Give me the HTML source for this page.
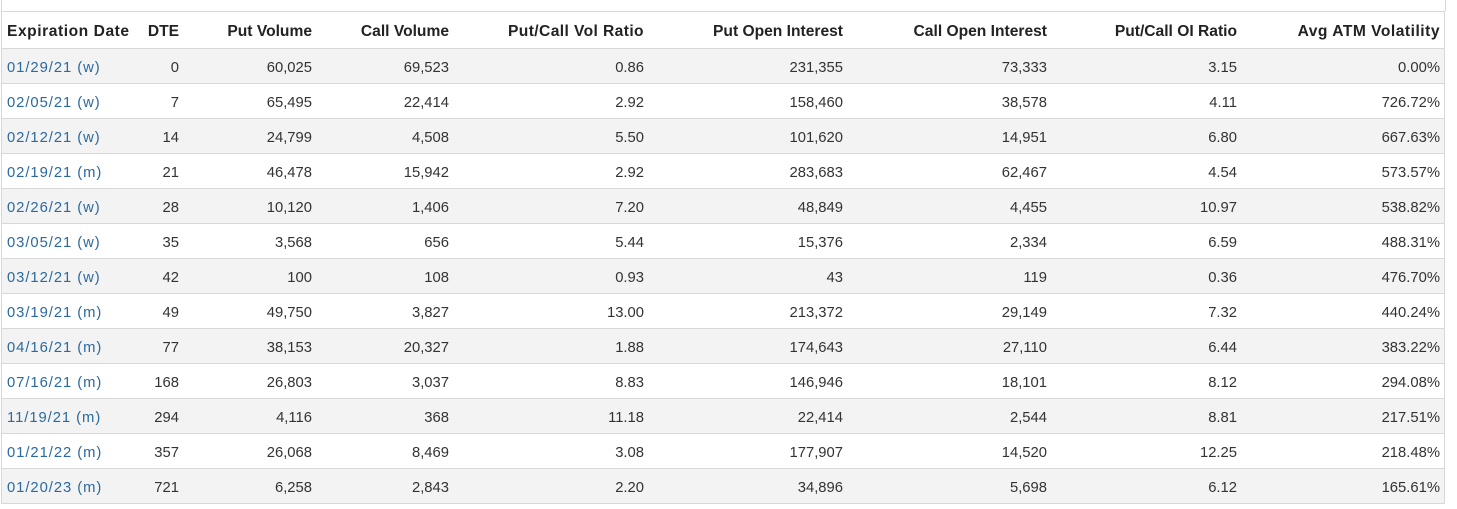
<!DOCTYPE html>
<html><head><meta charset="utf-8"><style>
html,body{margin:0;padding:0;background:#fff;}
body{width:1457px;height:509px;position:relative;overflow:hidden;font-family:"Liberation Sans",Arial,sans-serif;color:#333;}
.vl{position:absolute;width:1px;background:#d8d8d8;}
.hl{position:absolute;height:1px;background:#d8d8d8;left:1px;width:1444px;}
.row{position:absolute;left:2px;width:1442px;height:35px;}
.g{background:#f3f3f3;}
.c{position:absolute;top:1.5px;line-height:35px;font-size:14.8px;white-space:nowrap;text-align:right;}
.hd .c{top:2px;font-weight:bold;font-size:15.6px;line-height:37px;color:#222;}
.a{left:5px;text-align:left;color:#2b6a9e;letter-spacing:0.95px;}
.hd .a{color:#222;letter-spacing:0.55px;}
.hd .d8{letter-spacing:0.5px;}
.hd .d4{letter-spacing:0.4px;}
.d1{right:1265px}.d2{right:1132px}.d3{right:995px}.d4{right:800px}
.d5{right:601px}.d6{right:397px}.d7{right:207px}.d8{right:4px}
</style></head><body>
<div class="vl" style="left:1px;top:0;height:504px"></div>
<div class="vl" style="left:1445px;top:0;height:11px"></div>
<div class="vl" style="left:1444px;top:11px;height:493px"></div>
<div class="hl" style="top:11px"></div>

<div class="row hd" style="top:11px;height:37px">
<span class="c a">Expiration Date</span><span class="c d1">DTE</span><span class="c d2">Put Volume</span><span class="c d3">Call Volume</span><span class="c d4">Put/Call Vol Ratio</span><span class="c d5">Put Open Interest</span><span class="c d6">Call Open Interest</span><span class="c d7">Put/Call OI Ratio</span><span class="c d8">Avg ATM Volatility</span>
</div>
<div class="hl" style="top:48px"></div>

<div class="row g" style="top:49px;height:34px"><span class="c a">01/29/21 (w)</span><span class="c d1">0</span><span class="c d2">60,025</span><span class="c d3">69,523</span><span class="c d4">0.86</span><span class="c d5">231,355</span><span class="c d6">73,333</span><span class="c d7">3.15</span><span class="c d8">0.00%</span></div>
<div class="hl" style="top:83px"></div>
<div class="row" style="top:84px;height:34px"><span class="c a">02/05/21 (w)</span><span class="c d1">7</span><span class="c d2">65,495</span><span class="c d3">22,414</span><span class="c d4">2.92</span><span class="c d5">158,460</span><span class="c d6">38,578</span><span class="c d7">4.11</span><span class="c d8">726.72%</span></div>
<div class="hl" style="top:118px"></div>
<div class="row g" style="top:119px;height:34px"><span class="c a">02/12/21 (w)</span><span class="c d1">14</span><span class="c d2">24,799</span><span class="c d3">4,508</span><span class="c d4">5.50</span><span class="c d5">101,620</span><span class="c d6">14,951</span><span class="c d7">6.80</span><span class="c d8">667.63%</span></div>
<div class="hl" style="top:153px"></div>
<div class="row" style="top:154px;height:34px"><span class="c a">02/19/21 (m)</span><span class="c d1">21</span><span class="c d2">46,478</span><span class="c d3">15,942</span><span class="c d4">2.92</span><span class="c d5">283,683</span><span class="c d6">62,467</span><span class="c d7">4.54</span><span class="c d8">573.57%</span></div>
<div class="hl" style="top:188px"></div>
<div class="row g" style="top:189px;height:34px"><span class="c a">02/26/21 (w)</span><span class="c d1">28</span><span class="c d2">10,120</span><span class="c d3">1,406</span><span class="c d4">7.20</span><span class="c d5">48,849</span><span class="c d6">4,455</span><span class="c d7">10.97</span><span class="c d8">538.82%</span></div>
<div class="hl" style="top:223px"></div>
<div class="row" style="top:224px;height:34px"><span class="c a">03/05/21 (w)</span><span class="c d1">35</span><span class="c d2">3,568</span><span class="c d3">656</span><span class="c d4">5.44</span><span class="c d5">15,376</span><span class="c d6">2,334</span><span class="c d7">6.59</span><span class="c d8">488.31%</span></div>
<div class="hl" style="top:258px"></div>
<div class="row g" style="top:259px;height:34px"><span class="c a">03/12/21 (w)</span><span class="c d1">42</span><span class="c d2">100</span><span class="c d3">108</span><span class="c d4">0.93</span><span class="c d5">43</span><span class="c d6">119</span><span class="c d7">0.36</span><span class="c d8">476.70%</span></div>
<div class="hl" style="top:293px"></div>
<div class="row" style="top:294px;height:34px"><span class="c a">03/19/21 (m)</span><span class="c d1">49</span><span class="c d2">49,750</span><span class="c d3">3,827</span><span class="c d4">13.00</span><span class="c d5">213,372</span><span class="c d6">29,149</span><span class="c d7">7.32</span><span class="c d8">440.24%</span></div>
<div class="hl" style="top:328px"></div>
<div class="row g" style="top:329px;height:34px"><span class="c a">04/16/21 (m)</span><span class="c d1">77</span><span class="c d2">38,153</span><span class="c d3">20,327</span><span class="c d4">1.88</span><span class="c d5">174,643</span><span class="c d6">27,110</span><span class="c d7">6.44</span><span class="c d8">383.22%</span></div>
<div class="hl" style="top:363px"></div>
<div class="row" style="top:364px;height:34px"><span class="c a">07/16/21 (m)</span><span class="c d1">168</span><span class="c d2">26,803</span><span class="c d3">3,037</span><span class="c d4">8.83</span><span class="c d5">146,946</span><span class="c d6">18,101</span><span class="c d7">8.12</span><span class="c d8">294.08%</span></div>
<div class="hl" style="top:398px"></div>
<div class="row g" style="top:399px;height:34px"><span class="c a">11/19/21 (m)</span><span class="c d1">294</span><span class="c d2">4,116</span><span class="c d3">368</span><span class="c d4">11.18</span><span class="c d5">22,414</span><span class="c d6">2,544</span><span class="c d7">8.81</span><span class="c d8">217.51%</span></div>
<div class="hl" style="top:433px"></div>
<div class="row" style="top:434px;height:34px"><span class="c a">01/21/22 (m)</span><span class="c d1">357</span><span class="c d2">26,068</span><span class="c d3">8,469</span><span class="c d4">3.08</span><span class="c d5">177,907</span><span class="c d6">14,520</span><span class="c d7">12.25</span><span class="c d8">218.48%</span></div>
<div class="hl" style="top:468px"></div>
<div class="row g" style="top:469px;height:34px"><span class="c a">01/20/23 (m)</span><span class="c d1">721</span><span class="c d2">6,258</span><span class="c d3">2,843</span><span class="c d4">2.20</span><span class="c d5">34,896</span><span class="c d6">5,698</span><span class="c d7">6.12</span><span class="c d8">165.61%</span></div>
<div class="hl" style="top:503px"></div>
</body></html>
